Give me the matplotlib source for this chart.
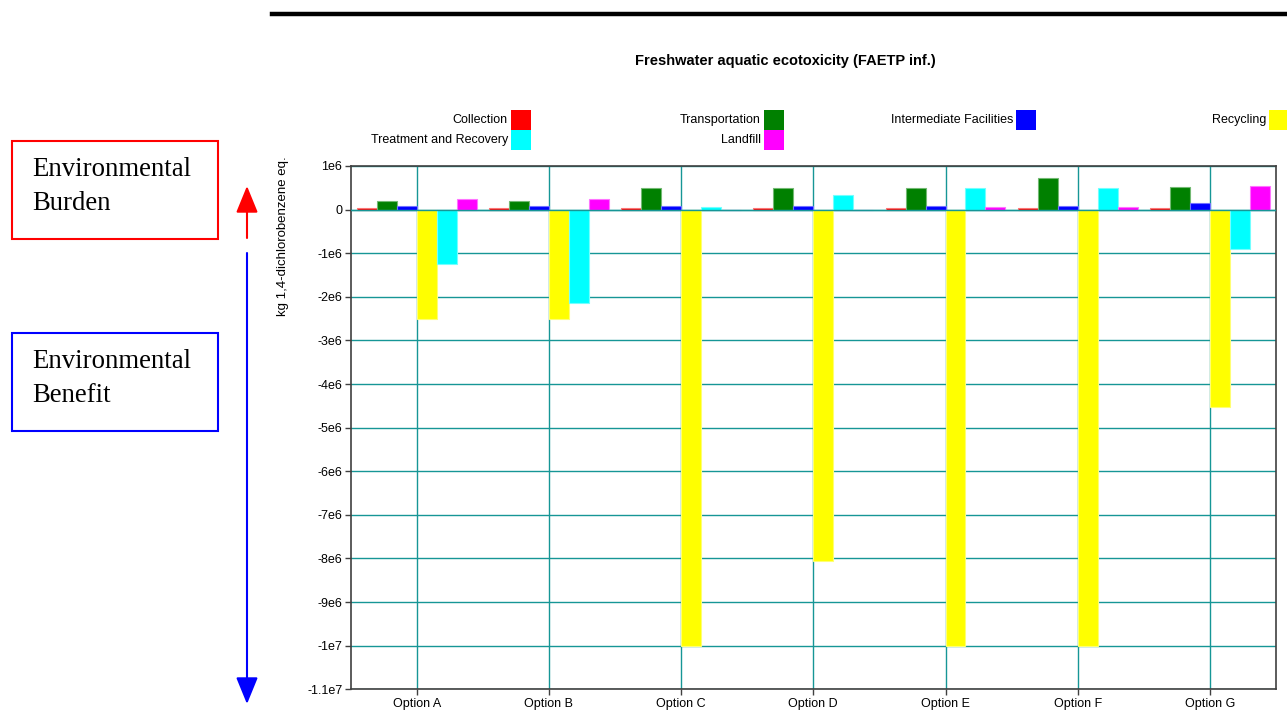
import numpy as np
import matplotlib
matplotlib.use("Agg")
from matplotlib import pyplot as plt
from matplotlib.patches import Rectangle
from matplotlib import colors as mcolors

# data (kg 1,4-DCB eq.)
options = ['Option A', 'Option B', 'Option C', 'Option D', 'Option E', 'Option F', 'Option G']
collection = [0.03e6, 0.03e6, 0.03e6, 0.03e6, 0.03e6, 0.03e6, 0.03e6]
transportation = [0.2e6, 0.2e6, 0.5e6, 0.5e6, 0.5e6, 0.72e6, 0.52e6]
intermediate = [0.08e6, 0.08e6, 0.08e6, 0.08e6, 0.08e6, 0.08e6, 0.16e6]
recycling = [-2.51e6, -2.51e6, -10.0e6, -8.05e6, -10.0e6, -10.0e6, -4.52e6]
treatment = [-1.25e6, -2.15e6, 0.06e6, 0.33e6, 0.49e6, 0.49e6, -0.9e6]
landfill = [0.235e6, 0.235e6, 0.0, 0.0, 0.06e6, 0.06e6, 0.55e6]

series_names = ['Collection', 'Transportation', 'Intermediate Facilities',
                'Recycling', 'Treatment and Recovery', 'Landfill']
series_vals = [collection, transportation, intermediate, recycling, treatment, landfill]
series_cols = ['#ff0000', '#008000', '#0000ff', '#ffff00', '#00ffff', '#ff00ff']

yticks = [1e6, 0, -1e6, -2e6, -3e6, -4e6, -5e6, -6e6, -7e6, -8e6, -9e6, -1e7, -1.1e7]
ytick_labels = ['1e6', '0', '-1e6', '-2e6', '-3e6', '-4e6', '-5e6', '-6e6',
                '-7e6', '-8e6', '-9e6', '-1e7', '-1.1e7']

W, H = 1287, 718
plt.rcParams['font.family'] = ['Liberation Sans', 'DejaVu Sans']
fig = plt.figure(figsize=(W / 100, H / 100), dpi=100)

def fx(px):
    return px / W

def fy(py):
    return 1 - py / H

grid_c = '#169696'
ax = fig.add_axes([fx(350.6), fy(689.3), fx(1276) - fx(350.6), fy(166) - fy(689.3)])
x = np.arange(len(options))
bw = 0.151
for i, (name, vals, c) in enumerate(zip(series_names, series_vals, series_cols)):
    edge = mcolors.to_rgb(c)
    edge = tuple(0.55 * e + 0.45 for e in edge)
    ax.bar(x + (i - 3) * bw, vals, bw, align='edge', color=c, edgecolor=edge,
           linewidth=0.8, zorder=3)

ax.set_xlim(-0.5, len(options) - 0.5)
ax.set_ylim(-1.1e7, 1e6)
ax.set_yticks(yticks)
ax.set_yticklabels(ytick_labels)
ax.set_xticks(x)
ax.set_xticklabels(options)
ax.grid(True, color=grid_c, linewidth=1.0, zorder=1)
ax.axhline(0, color=grid_c, linewidth=1.0, zorder=4)
ax.tick_params(axis='both', labelsize=9, length=4, width=1, color='#404040', pad=2)
for s in ax.spines.values():
    s.set_color('#404040')
    s.set_linewidth(1.2)

# legend drawn by hand: label to the left of its colour square
leg_pos = {'Collection': (508, 120), 'Treatment and Recovery': (508, 140),
           'Transportation': (761, 120), 'Landfill': (761, 140),
           'Intermediate Facilities': (1013, 120), 'Recycling': (1266, 120)}
for name, c in zip(series_names, series_cols):
    px, py = leg_pos[name]
    fig.text(fx(px), fy(py), name, ha='right', va='center', fontsize=9)
    fig.patches.append(Rectangle((fx(px + 3), fy(py + 9.5)), fx(20), 19 / H,
                                 transform=fig.transFigure, facecolor=c,
                                 edgecolor='none'))

fig.text(fx(785), fy(61), 'Freshwater aquatic ecotoxicity (FAETP inf.)',
         ha='center', va='center', fontsize=10.5, fontweight='bold')
fig.text(fx(283), fy(236), 'kg 1,4-dichlorobenzene eq.', rotation=90,
         ha='center', va='center', fontsize=9.5)

# heavy rule at the top
fig.add_artist(plt.Line2D([fx(272), 1.0], [fy(14), fy(14)], color='black',
                          linewidth=3.2, transform=fig.transFigure))

# burden / benefit boxes
for top, label, c in [(141, 'Environmental\nBurden', '#ff0000'),
                      (333, 'Environmental\nBenefit', '#0000ff')]:
    fig.patches.append(Rectangle((fx(12), fy(top + 98)), fx(206), 98 / H,
                                 transform=fig.transFigure, facecolor='none',
                                 edgecolor=c, linewidth=1.5))
    fig.text(fx(32), fy(top + 16), label, ha='left', va='top',
             family='Liberation Serif', fontsize=19.3, linespacing=1.45)

fig.add_artist(matplotlib.patches.FancyArrowPatch(
    (fx(247), fy(238)), (fx(247), fy(186)), transform=fig.transFigure,
    arrowstyle='-|>,head_length=1.1,head_width=0.45', mutation_scale=15,
    color='#ff0000', linewidth=1.5, shrinkA=0, shrinkB=0))
fig.add_artist(matplotlib.patches.FancyArrowPatch(
    (fx(247), fy(253)), (fx(247), fy(704)), transform=fig.transFigure,
    arrowstyle='-|>,head_length=1.1,head_width=0.45', mutation_scale=15,
    color='#0000ff', linewidth=1.5, shrinkA=0, shrinkB=0))

fig.savefig('out.png', dpi=100)
